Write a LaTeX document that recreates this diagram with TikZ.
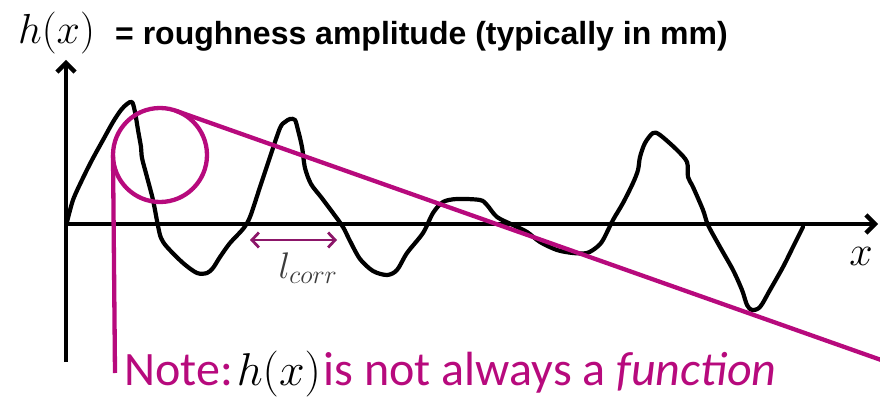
\documentclass[tikz,border=0pt]{standalone}
\usepackage{fix-cm}
\usepackage{fontspec}
\usepackage{tikz}
\usetikzlibrary{arrows.meta,positioning}
\newfontfamily\notefont{Carlito}
\newfontfamily\titlefont{Liberation Sans}
\definecolor{roughmagenta}{RGB}{183,10,125}
\definecolor{corrpurple}{RGB}{140,22,105}
\definecolor{corrgray}{RGB}{60,60,60}

\begin{document}
\begin{tikzpicture}[x=1pt,y=-1pt,line cap=round,line join=round,
                    axis/.style={line width=4.4pt,-{Straight Barb[length=9pt,width=18pt,line width=4.4pt]}},
                    surface/.style={line width=4.2pt},
                    hilite/.style={roughmagenta,line width=4.3pt}]
  \useasboundingbox (0,0) rectangle (880,398);
  % Achsen mit offenen Pfeilspitzen.
  \coordinate (ybot) at (66,362);
  \coordinate (ytop) at (66,60);
  \coordinate (xbeg) at (66,224);
  \coordinate (xend) at (878,224);
  \draw[axis,line cap=butt] (ybot) -- (ytop);
  \draw[axis,line cap=butt] (xbeg) -- (xend);
  \node[inner sep=0,anchor=base west,font=\fontsize{42}{46}\selectfont] (hx) at (18,44) {$h(x)$};
  \node[inner sep=0,anchor=base west,font=\titlefont\bfseries\fontsize{32}{35}\selectfont]
       (title) at (115,45) {= roughness amplitude (typically in mm)};
  \node[inner sep=0,font=\fontsize{42}{46}\selectfont] (xlab) at (861,256) {$x$};
  % Rauhes Oberflaechenprofil.
  \draw[surface] plot[smooth,tension=.5] coordinates {
    (67,222) (73,200) (82,180) (92,160) (103,140) (113,122) (121,110)
    (127,104) (132,102) (135,112) (138,130) (141,147) (142,158)
    (147,177) (153,200) (158,226) (161,238) (167,247) (183,263) (197,273)
    (207,273) (213,268) (220,257) (230,243) (243,229) (250,217) (260,187)
    (270,157) (280,128) (285,122) (290,119) (295,120) (298,130) (302,147)
    (305,168) (311,184) (321,197) (333,213) (343,227) (350,241) (360,259)
    (373,271) (387,275) (397,270) (407,253) (423,233) (433,213) (443,202)
    (457,199) (480,200) (487,205) (497,217) (513,225) (527,232) (540,242)
    (557,250) (573,253) (587,253) (597,247) (603,240) (613,220) (623,203)
    (633,183) (638,170) (640,157) (645,143) (653,133) (660,135) (677,150)
    (687,162) (688,177) (693,187) (703,210) (708,225) (720,247) (733,270)
    (742,290) (747,305) (752,310) (760,307) (770,290) (783,267) (793,247)
    (803,227)};
  % Korrelationslaenge.
  \coordinate (lcA) at (250,240);
  \coordinate (lcB) at (337,240);
  \draw[corrpurple,line width=2.8pt,{Straight Barb[length=7pt,width=15pt,line width=2.8pt]}-{Straight Barb[length=7pt,width=15pt,line width=2.8pt]}]
       (lcA) -- (lcB);
  \node[corrgray,inner sep=0,font=\fontsize{37}{40}\selectfont] (lcorr) at (308,268) {$l_{corr}$};
  % Markierter Bereich und Hinweis.
  \node[hilite,draw,circle,minimum size=94pt,inner sep=0,outer sep=0] (zoomc) at (160,155) {};
  \coordinate (tanend) at (884,361);
  \coordinate (notetop) at (115,373);
  \draw[hilite] (zoomc.70.5) -- (tanend);
  \draw[hilite,line cap=butt] (zoomc.west) -- (notetop);
  \node[inner sep=0,anchor=base west,roughmagenta,font=\notefont\fontsize{48}{52}\selectfont]
       (note) at (124,385) {Note:\hspace{4pt}{\color{black}\fontsize{46}{50}\selectfont$h(x)$}\hspace{3pt}is not always a \textit{function}};
\end{tikzpicture}
\end{document}
